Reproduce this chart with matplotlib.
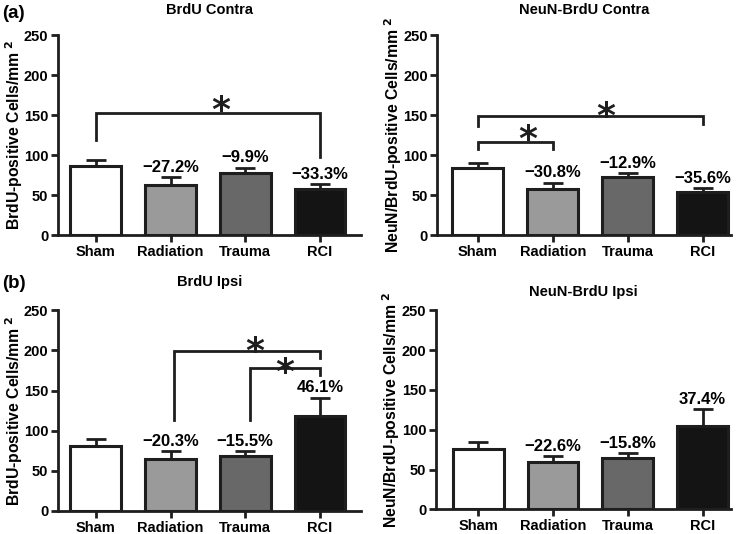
import matplotlib
matplotlib.use('Agg')
import matplotlib.pyplot as plt

plt.rcParams['font.family'] = ['Liberation Sans', 'DejaVu Sans']
plt.rcParams['font.weight'] = 'bold'

groups = ['Sham', 'Radiation', 'Trauma', 'RCI']
bar_colors = ['white', '#9a9a9a', '#686868', '#141414']

brdu_contra = [86.6, 63.0, 78.0, 57.8]
brdu_contra_err = [7.0, 9.5, 6.0, 6.0]
brdu_contra_pct = ['', '−27.2%', '−9.9%', '−33.3%']

neun_contra = [83.3, 57.6, 72.6, 53.6]
neun_contra_err = [6.3, 7.9, 5.0, 5.0]
neun_contra_pct = ['', '−30.8%', '−12.9%', '−35.6%']

brdu_ipsi = [80.6, 64.2, 68.1, 117.8]
brdu_ipsi_err = [9.4, 10.0, 6.6, 23.3]
brdu_ipsi_pct = ['', '−20.3%', '−15.5%', '46.1%']

neun_ipsi = [76.5, 59.2, 64.4, 105.1]
neun_ipsi_err = [8.3, 7.5, 6.2, 20.8]
neun_ipsi_pct = ['', '−22.6%', '−15.8%', '37.4%']

ylab1 = 'BrdU-positive Cells/mm$^{\\mathbf{\\ 2}}$'
ylab2 = 'NeuN/BrdU-positive Cells/mm$^{\\mathbf{\\ 2}}$'

fig = plt.figure(figsize=(7.42, 5.34), dpi=100)
ink = '#1e1e1e'
star_fs = 26


def panel(rect, xlim, title, title_y, ylabel, lab_x, vals, errs, pcts, brackets):
    ax = fig.add_axes(rect)
    x = list(range(len(groups)))
    ax.errorbar(x, vals, yerr=[[0] * len(errs), errs], fmt='none', ecolor=ink,
                elinewidth=2, capsize=7, capthick=2, zorder=1)
    ax.bar(x, vals, width=0.68, color=bar_colors, edgecolor=ink, linewidth=2.2, zorder=2)
    for xi, v, e, p in zip(x, vals, errs, pcts):
        if p:
            ax.text(xi, v + e + 3, p, ha='center', va='bottom', fontsize=12, fontweight='bold')
    # significance brackets: (x1, y1 end, x2, y2 end, bar height, star x, star y)
    for x1, y1, x2, y2, yb, sx, sy in brackets:
        ax.plot([x1, x1, x2, x2], [y1, yb, yb, y2], color=ink, lw=2, clip_on=False,
                solid_joinstyle='miter')
        ax.annotate('*', xy=(sx, sy), xytext=(0, -0.6 * star_fs), textcoords='offset points',
                    ha='center', va='baseline', fontsize=star_fs, fontweight='bold',
                    family='DejaVu Sans', color=ink)
    ax.set_xlim(*xlim)
    ax.set_ylim(0, 250)
    ax.set_yticks([0, 50, 100, 150, 200, 250])
    ax.set_xticks(x)
    ax.set_xticklabels(groups)
    ax.tick_params(width=2, length=5, color=ink, labelsize=10.5, pad=2)
    for s in ['top', 'right']:
        ax.spines[s].set_visible(False)
    for s in ['left', 'bottom']:
        ax.spines[s].set_linewidth(2)
        ax.spines[s].set_color(ink)
    for lab in ax.get_xticklabels() + ax.get_yticklabels():
        lab.set_fontweight('bold')
    ax.set_ylabel(ylabel, fontsize=11.3, fontweight='bold')
    ax.yaxis.set_label_coords(lab_x, 0.5)
    ax.text(0.5, title_y, title, transform=ax.transAxes, ha='center', va='center',
            fontsize=10.5, fontweight='bold')
    return ax


panel([0.0782, 0.5599, 0.4084, 0.3745], (-0.506, 3.55), 'BrdU Contra', 1.125, ylab1, -0.109,
      brdu_contra, brdu_contra_err, brdu_contra_pct,
      [(0, 119, 3, 98, 152, 1.67, 169)])
panel([0.5896, 0.5599, 0.3956, 0.3745], (-0.54, 3.38), 'NeuN-BrdU Contra', 1.125, ylab2, -0.114,
      neun_contra, neun_contra_err, neun_contra_pct,
      [(0, 136, 3, 139, 149, 1.71, 162), (0, 108, 1, 108, 116.7, 0.66, 133)])
panel([0.0782, 0.0431, 0.4084, 0.3758], (-0.506, 3.55), 'BrdU Ipsi', 1.141, ylab1, -0.109,
      brdu_ipsi, brdu_ipsi_err, brdu_ipsi_pct,
      [(1.05, 113.6, 3, 190, 199, 2.13, 213), (2.07, 113.6, 3, 169.4, 177.6, 2.53, 186)])
panel([0.5876, 0.0459, 0.3976, 0.3730], (-0.565, 3.38), 'NeuN-BrdU Ipsi', 1.092, ylab2, -0.114,
      neun_ipsi, neun_ipsi_err, neun_ipsi_pct, [])

fig.text(0.003, 1 - 14 / 534, '(a)', fontsize=13.5, fontweight='bold', va='center')
fig.text(0.003, 1 - 283 / 534, '(b)', fontsize=13.5, fontweight='bold', va='center')

fig.savefig('out.png', dpi=100)
